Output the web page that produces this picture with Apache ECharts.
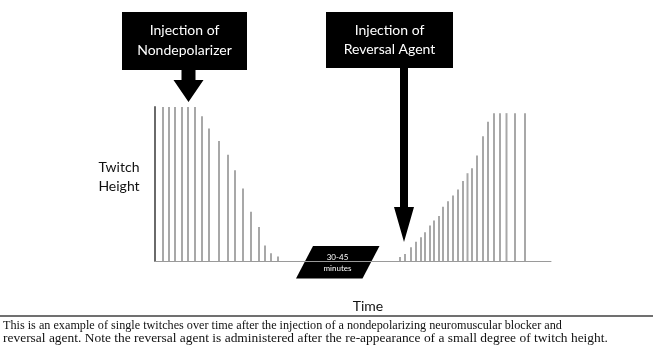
<!DOCTYPE html>
<html>
<head>
<meta charset="utf-8">
<script src="https://cdn.jsdelivr.net/npm/echarts@6/dist/echarts.min.js"></script>
<style>
html,body{margin:0;padding:0;background:#fff;}
#c{width:653px;height:350px;}
</style>
</head>
<body>
<div id="c"></div>
<script>
// Time (arbitrary units) of each single twitch
var blockTimes   = [8, 14, 20, 27, 33, 40, 47, 54, 64, 73, 80, 88, 96, 104, 110, 116, 123];
// Twitch height (% of baseline) during onset of block
var blockHeights = [100, 100, 100, 100, 100, 100, 94, 86, 78, 69, 59, 47, 32, 22, 10, 5, 3];
// Time of each twitch during recovery / reversal
var recoveryTimes   = [245, 250, 256, 261, 266, 270, 275, 279, 284, 288, 293, 298, 303, 308, 312.5, 317, 322, 328, 333, 339, 345, 351.5, 360, 370];
// Twitch height (%) during recovery
var recoveryHeights = [2.6, 4.5, 9, 12.5, 15.5, 18.6, 23, 26.3, 29.2, 35.2, 38.8, 42.5, 46.4, 52, 57, 60.2, 68.5, 81, 90.4, 96, 96, 96, 96, 96];
// Injection times (where the arrows point)
var injectionTimes = [33.5, 249];
var injectionLabels = [['Injection of', 'Nondepolarizer'], ['Injection of', 'Reversal Agent']];
var gapLabel = ['30-45', 'minutes'];
var axisLabels = ['Twitch', 'Height', 'Time'];
var caption = [
  'This is an example of single twitches over time after the injection of a nondepolarizing neuromuscular blocker and',
  'reversal agent. Note the reversal agent is administered after the re-appearance of a small degree of twitch height.'
];

function pairs(xs, ys){ return xs.map(function(x,i){ return [x, ys[i]]; }); }

var chart = echarts.init(document.getElementById('c'), null, {renderer:'canvas'});
var SANS = 'Lato, "Open Sans", sans-serif';
var SERIF = '"Liberation Serif", "DejaVu Serif", serif';

chart.setOption({
  animation: false,
  backgroundColor: '#fff',
  grid: {left: 155, right: 102, top: 107, bottom: 89, containLabel: false},
  xAxis: {
    type: 'value', min: 0, max: 396,
    axisLine: {show: true, onZero: false, lineStyle: {color: '#9a9a9a', width: 1}},
    axisTick: {show: false}, axisLabel: {show: false}, splitLine: {show: false}
  },
  yAxis: {
    type: 'value', min: 0, max: 100,
    axisLine: {show: true, lineStyle: {color: '#6a6a6a', width: 2}},
    axisTick: {show: false}, axisLabel: {show: false}, splitLine: {show: false}
  },
  series: [
    {type: 'bar', data: pairs(blockTimes, blockHeights), barWidth: 2, itemStyle: {color: '#a8a8a8'}, barGap: '-100%'},
    {type: 'bar', data: pairs(recoveryTimes, recoveryHeights), barWidth: 2, itemStyle: {color: '#a8a8a8'}, barGap: '-100%'}
  ]
});

var ax1 = chart.convertToPixel({gridIndex: 0}, [injectionTimes[0], 100]);
var ax2 = chart.convertToPixel({gridIndex: 0}, [injectionTimes[1], 0]);
var a1 = ax1[0], a2 = ax2[0];

var g = [];
// left box
g.push({type:'rect', shape:{x:122, y:12, width:125, height:58}, style:{fill:'#000'}});
g.push({type:'text', x:184.5, y:30, style:{text:injectionLabels[0][0], fill:'#fff', font:'14px '+SANS, align:'center', verticalAlign:'middle'}});
g.push({type:'text', x:184.5, y:50, style:{text:injectionLabels[0][1], fill:'#fff', font:'14px '+SANS, align:'center', verticalAlign:'middle'}});
// left arrow
g.push({type:'polygon', shape:{points:[[a1-7,69],[a1+7,69],[a1+7,80],[a1+15,80],[a1,102],[a1-15,80],[a1-7,80]]}, style:{fill:'#000'}});
// right box
g.push({type:'rect', shape:{x:326, y:12, width:127, height:56}, style:{fill:'#000'}});
g.push({type:'text', x:389.5, y:30, style:{text:injectionLabels[1][0], fill:'#fff', font:'14px '+SANS, align:'center', verticalAlign:'middle'}});
g.push({type:'text', x:389.5, y:49, style:{text:injectionLabels[1][1], fill:'#fff', font:'14px '+SANS, align:'center', verticalAlign:'middle'}});
// right arrow
g.push({type:'polygon', shape:{points:[[a2-4,67],[a2+4,67],[a2+4,207],[a2+10,207],[a2,242],[a2-10,207],[a2-4,207]]}, style:{fill:'#000'}});
// gap parallelogram
g.push({type:'polygon', shape:{points:[[313,246],[379.5,246],[362.5,278.5],[296,278.5]]}, style:{fill:'#000'}});
g.push({type:'text', x:337.5, y:257, style:{text:gapLabel[0], fill:'#fff', font:'8px '+SANS, align:'center', verticalAlign:'middle'}});
g.push({type:'text', x:337.5, y:268, style:{text:gapLabel[1], fill:'#fff', font:'8px '+SANS, align:'center', verticalAlign:'middle'}});
// axis names
g.push({type:'text', x:119, y:167.5, style:{text:axisLabels[0], fill:'#111', font:'14px '+SANS, align:'center', verticalAlign:'middle'}});
g.push({type:'text', x:119, y:186.5, style:{text:axisLabels[1], fill:'#111', font:'14px '+SANS, align:'center', verticalAlign:'middle'}});
g.push({type:'text', x:368, y:306.5, style:{text:axisLabels[2], fill:'#111', font:'14px '+SANS, align:'center', verticalAlign:'middle'}});
// caption rule and text
g.push({type:'line', shape:{x1:0, y1:316, x2:653, y2:316}, style:{stroke:'#404040', lineWidth:1.5}});
g.push({type:'text', x:3, y:326, scaleX:1.016, style:{text:caption[0], fill:'#111', font:'12px '+SERIF, align:'left', verticalAlign:'middle'}});
g.push({type:'text', x:3, y:339, scaleX:1.12, style:{text:caption[1], fill:'#111', font:'12px '+SERIF, align:'left', verticalAlign:'middle'}});

chart.setOption({graphic: g});
</script>
</body>
</html>
